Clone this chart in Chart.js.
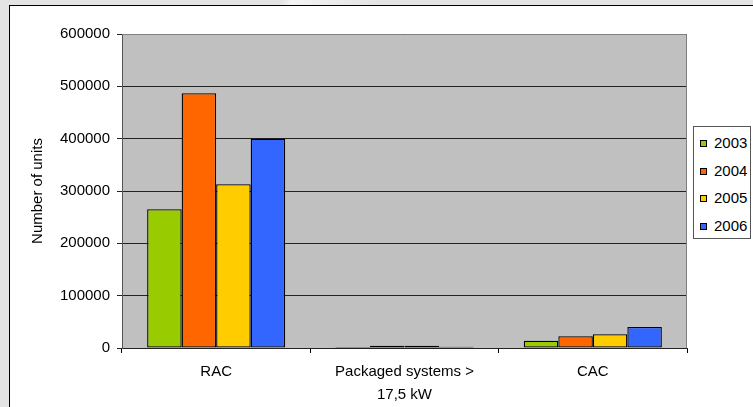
<!DOCTYPE html>
<html>
<head>
<meta charset="utf-8">
<script src="https://cdn.jsdelivr.net/npm/chart.js@4/dist/chart.umd.min.js"></script>
<style>
  html, body { margin: 0; padding: 0; }
  body {
    width: 753px; height: 407px; overflow: hidden; position: relative;
    background: linear-gradient(115deg, #e4e4e4 0%, #e4e4e4 30%, #f4f4f4 31%, #e4e4e4 40%, #e4e4e4 100%);
    font-family: "Liberation Sans", Arial, sans-serif;
  }
  #frame {
    position: absolute; left: 9px; top: 5px; width: 760px; height: 420px;
    background: #fff; border: 1px solid #000;
  }
  #wrap { position: absolute; left: 0; top: 0; width: 753px; height: 407px; }
  #legend {
    position: absolute; left: 693px; top: 126px; width: 58px; height: 113px;
    border: 1px solid #555; background: #fff; box-sizing: border-box;
  }
  .item { position: absolute; left: 6px; height: 18px; line-height: 18px; font-size: 15px; color: #000; }
  .item i { display: inline-block; width: 5px; height: 5px; border: 1px solid #000; margin-right: 7px; vertical-align: 1px; }
</style>
</head>
<body>
<div id="frame"></div>
<div id="wrap"><canvas id="myChart" width="753" height="407"></canvas></div>
<div id="legend"></div>
<script>
const categories = ["RAC", ["Packaged systems >", "17,5 kW"], "CAC"];
const years = ["2003", "2004", "2005", "2006"];
const units2003 = [265000, 2000, 14000];
const units2004 = [487000, 4500, 22500];
const units2005 = [313000, 4500, 26500];
const units2006 = [400000, 2500, 40000];
const yTicks = [0, 100000, 200000, 300000, 400000, 500000, 600000];
const colors = ["#99cc00", "#ff6600", "#ffcc00", "#3366ff"];

const series = [units2003, units2004, units2005, units2006];

const plotArea = {
  id: "plotArea",
  beforeDraw(chart) {
    const a = chart.chartArea, c = chart.ctx;
    c.save();
    c.fillStyle = "#c0c0c0";
    c.fillRect(a.left, a.top, a.right - a.left, a.bottom - a.top);
    c.restore();
  },
  beforeDatasetsDraw(chart) {
    const a = chart.chartArea, c = chart.ctx;
    c.save();
    c.strokeStyle = "#808080";
    c.lineWidth = 1;
    c.beginPath();
    c.moveTo(a.left, a.top + 0.5);
    c.lineTo(a.right - 0.5, a.top + 0.5);
    c.lineTo(a.right - 0.5, a.bottom);
    c.stroke();
    c.restore();
  }
};

const font = { family: "'Liberation Sans', Arial, sans-serif", size: 15 };

const ctx = document.getElementById("myChart").getContext("2d");
const chart = new Chart(ctx, {
  type: "bar",
  data: {
    labels: categories,
    datasets: years.map((y, i) => ({
      label: y,
      data: series[i],
      backgroundColor: colors[i],
      borderColor: "#000",
      borderWidth: 1.3,
      borderSkipped: false,
      categoryPercentage: 0.733,
      barPercentage: 1,
    })),
  },
  options: {
    responsive: false,
    animation: false,
    layout: { padding: { left: 20, top: 34, right: 66, bottom: 4 } },
    plugins: { legend: { display: false }, tooltip: { enabled: false } },
    scales: {
      x: {
        grid: { drawOnChartArea: false, drawTicks: true, tickLength: 5, color: "#000" },
        border: { color: "#222" },
        ticks: { color: "#000", font: { ...font, lineHeight: 1.53 }, padding: 7, maxRotation: 0 },
        afterFit(scale) { scale.height = 55; },
      },
      y: {
        min: 0,
        max: 600000,
        afterBuildTicks(scale) { scale.ticks = yTicks.map(v => ({ value: v })); },
        grid: { color: "#222", tickLength: 5 },
        border: { color: "#555" },
        ticks: { color: "#000", font: font, padding: 7, callback: v => String(v) },
        title: { display: true, text: "Number of units", color: "#000", font: font, padding: { top: 9, bottom: 0 } },
        afterFit(scale) { scale.width = 102; },
      },
    },
  },
  plugins: [plotArea],
});

const legend = document.getElementById("legend");
const itemTops = [143, 171, 198, 226];
years.forEach((y, i) => {
  const d = document.createElement("div");
  d.className = "item";
  d.style.top = (itemTops[i] - 126 - 10) + "px";
  d.innerHTML = '<i style="background:' + colors[i] + '"></i>' + y;
  legend.appendChild(d);
});
</script>
</body>
</html>
